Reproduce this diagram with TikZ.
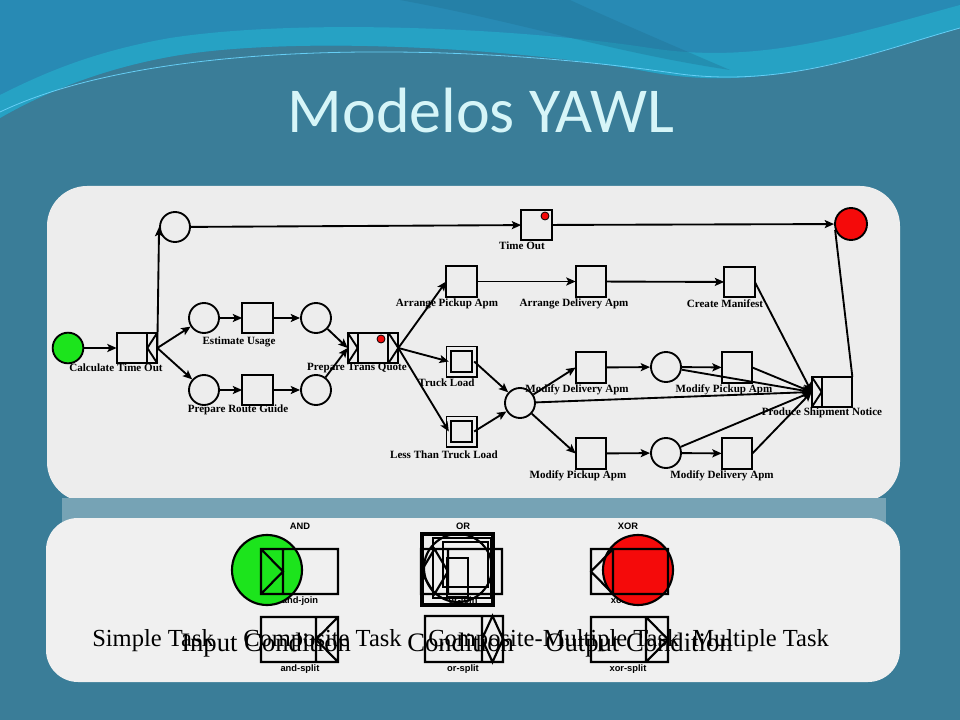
\documentclass[tikz,border=0pt]{standalone}
\usepackage{fontspec}
\setmainfont{Liberation Serif}
\newfontfamily\titlefont{Carlito}
\newfontfamily\tagfont{Liberation Sans}
\usetikzlibrary{positioning, arrows.meta}
\definecolor{slidebg}{RGB}{58,125,152}
\definecolor{waveA}{RGB}{40,138,180}
\definecolor{waveB}{RGB}{38,162,196}
\definecolor{panel}{RGB}{237,237,237}
\definecolor{legpanel}{RGB}{240,240,240}
\definecolor{band}{RGB}{118,163,181}
\definecolor{titlecol}{RGB}{214,245,248}
\definecolor{yawlgreen}{RGB}{28,228,28}
\definecolor{yawlred}{RGB}{245,10,10}

\begin{document}
\begin{tikzpicture}[x=0.75pt, y=-0.75pt,
	task/.style={draw, line width=1.4pt, fill=panel, minimum size=23pt, inner sep=0pt, outer sep=0pt},
	dtask/.style={task, double=panel, double distance=2.2pt, minimum size=19pt},
	deco/.style={draw, line width=1.4pt, fill=panel, minimum width=7.5pt, minimum height=23pt, inner sep=0pt, outer sep=0pt},
	cond/.style={circle, draw, line width=1.4pt, fill=panel, minimum size=22.5pt, inner sep=0pt},
	dot/.style={circle, draw, line width=0.6pt, fill=yawlred, minimum size=6pt, inner sep=0pt},
	flow/.style={-{Stealth[length=7pt, width=6pt, inset=1.5pt]}, line width=1.4pt},
	lbl/.style={font=\bfseries\fontsize{8.3}{8}\selectfont, inner sep=0pt},
	tag/.style={font=\tagfont\bfseries\fontsize{7}{7}\selectfont, inner sep=0pt},
	icon/.style={line width=1.6pt},
	legA/.style={anchor=base west, inner sep=0pt, font=\fontsize{18.4}{18}\selectfont},
	legB/.style={anchor=base west, inner sep=0pt, font=\fontsize{20}{20}\selectfont}]
	\useasboundingbox (0,0) rectangle (960,720);
	\fill[slidebg] (0,0) rectangle (960,720);
	\fill[waveA] (0,0) -- (960,0) -- (960,28) .. controls (850,60) and (760,92) .. (650,72) .. controls (520,48) and (300,36) .. (180,55) .. controls (100,68) and (40,95) .. (0,118) -- cycle;
	\fill[waveB] (0,118) .. controls (40,95) and (100,68) .. (180,55) .. controls (300,36) and (520,48) .. (650,72) .. controls (760,92) and (850,60) .. (960,28) -- (960,5) .. controls (850,35) and (760,65) .. (650,48) .. controls (520,28) and (300,18) .. (170,38) .. controls (90,52) and (40,75) .. (0,95) -- cycle;
	\fill[waveA!80!black, opacity=0.35] (400,0) .. controls (520,22) and (610,52) .. (730,70) .. controls (660,40) and (600,14) .. (570,0) -- cycle;
	\draw[cyan!60, line width=0.6pt] (0,112) .. controls (150,40) and (450,40) .. (680,74) .. controls (790,88) and (880,50) .. (960,28);
	\node[font=\titlefont\fontsize{48}{48}\selectfont, text=titlecol, anchor=base, inner sep=0pt] (title) at (481,133) {Modelos YAWL};

	\fill[panel, rounded corners=30pt] (47,186) rectangle (900,502);
	\fill[band] (62,498) rectangle (886,524);
	\fill[legpanel, rounded corners=24pt] (46,518) rectangle (900,682);

	\node[cond, fill=yawlgreen, minimum size=23pt] (in) at (68,348) {};
	\node[task] (cto) at (132,348) {};
	\node[deco, right=0pt of cto] (ctos) {};
	\draw[line width=1.4pt] (ctos.north east) -- (ctos.west) -- (ctos.south east);
	\node[cond] (p1) at (175,227) {};
	\node[task] (tout) at (536.5,225) {};
	\node[dot] (toutd) at (545,216) {};
	\node[cond, fill=yawlred, minimum size=24pt] (out) at (851,224) {};
	\node[cond] (c1) at (204,318) {};
	\node[task] (eu) at (257.5,318) {};
	\node[cond] (c2) at (316,318) {};
	\node[cond] (c3) at (204,390) {};
	\node[task] (prg) at (257.5,390) {};
	\node[cond] (c4) at (316,390) {};
	\node[task] (ptq) at (373,348) {};
	\node[deco, left=0pt of ptq] (ptqj) {};
	\node[deco, right=0pt of ptq] (ptqs) {};
	\draw[line width=1.4pt] (ptqj.north west) -- (ptqj.east) -- (ptqj.south west);
	\draw[line width=1.4pt] (ptqs.north west) -- (ptqs.east) -- (ptqs.south west);
	\node[dot] (ptqd) at (381,339) {};
	\node[task] (apa) at (461.5,281.5) {};
	\node[task] (ada) at (591,281.5) {};
	\node[task] (cm) at (739.5,282) {};
	\node[dtask] (tl) at (461.5,361.5) {};
	\node[dtask] (ltl) at (461.5,431.5) {};
	\node[cond] (c5) at (520,403) {};
	\node[task] (mda) at (591,367.5) {};
	\node[cond] (c6) at (666,367) {};
	\node[task] (mpa) at (737,367.5) {};
	\node[task] (mpb) at (591,453.5) {};
	\node[cond] (c7) at (666,453) {};
	\node[task] (mdb) at (737,453.5) {};
	\node[task] (psn) at (837,392) {};
	\node[deco, left=0pt of psn] (psnj) {};
	\draw[line width=1.4pt] (psnj.north west) -- (psnj.east) -- (psnj.south west);

	\draw[flow] (in) -- (cto);
	\draw[flow] (ctos.east) -- (p1.west);
	\draw[flow] (ctos.east) -- (c1);
	\draw[flow] (ctos.east) -- (c3);
	\draw[flow] (p1) -- (tout);
	\draw[flow] (tout) -- (out);
	\draw[flow] (c1) -- (eu);
	\draw[flow] (eu) -- (c2);
	\draw[flow] (c3) -- (prg);
	\draw[flow] (prg) -- (c4);
	\draw[flow] (c2) -- (ptqj.west);
	\draw[flow] (c4) -- (ptqj.west);
	\draw[flow] (ptqs.east) -- (apa.west);
	\draw[flow] (ptqs.east) -- (tl.west);
	\draw[flow] (ptqs.east) -- (ltl.west);
	\draw[flow] (apa) -- (ada);
	\draw[flow] (ada) -- (cm);
	\draw[flow] (tl.east) -- (c5);
	\draw[flow] (ltl.east) -- (c5);
	\draw[flow] (c5) -- (mda.west);
	\draw[flow] (c5) -- (mpb.west);
	\draw[flow] (c5) -- (psnj.west);
	\draw[flow] (mda) -- (c6);
	\draw[flow] (c6) -- (mpa);
	\draw[flow] (mpb) -- (c7);
	\draw[flow] (c7) -- (mdb);
	\draw[flow] (cm.east) -- (psnj.west);
	\draw[flow] (c6) -- (psnj.west);
	\draw[flow] (mpa.east) -- (psnj.west);
	\draw[flow] (c7) -- (psnj.west);
	\draw[flow] (mdb.east) -- (psnj.west);
	\draw[line width=1.4pt] (psn.north east) -- (out.200);

	\node[lbl] (ctol) at (116,368) {Calculate Time Out};
	\node[lbl] (eul) at (239,342) {Estimate Usage};
	\node[lbl] (prgl) at (238,410) {Prepare Route Guide};
	\node[lbl] (ptql) at (357,368) {Prepare Trans Quote};
	\node[lbl] (toutl) at (522,246) {Time Out};
	\node[lbl] (apal) at (447,304) {Arrange Pickup Apm};
	\node[lbl] (adal) at (574,304) {Arrange Delivery Apm};
	\node[lbl] (cml) at (725,304) {Create Manifest};
	\node[lbl] (tll) at (446.5,383) {Truck Load};
	\node[lbl] (ltll) at (444,455) {Less Than Truck Load};
	\node[lbl] (mdal) at (577,390) {Modify Delivery Apm};
	\node[lbl] (mpal) at (724,390) {Modify Pickup Apm};
	\node[lbl] (mpbl) at (578,476) {Modify Pickup Apm};
	\node[lbl] (mdbl) at (722,476) {Modify Delivery Apm};
	\node[lbl] (psnl) at (822,413) {Produce Shipment Notice};

	\node[tag] (andt) at (300,526) {AND};
	\node[tag] (ajl) at (300,601.5) {and-join};
	\node[circle, draw, icon, fill=yawlgreen, minimum size=52.5pt] (ing) at (267,570) {};
	\draw[icon] (261,549) rectangle (338,594) (283,549) -- (283,594) (261,549) -- (283,571.5) -- (261,594);
	\node[tag] (asl) at (300,669) {and-split};
	\draw[icon] (261,617) rectangle (338,662) (316,617) -- (316,662) (338,617) -- (316,639.5) -- (338,662);

	\node[tag] (ort) at (463,526) {OR};
	\node[tag] (ojl) at (463,601.5) {or-join};
	\draw[line width=2.4pt] (422,534) rectangle (493,605);
	\draw[icon] (433,538) rectangle (491,598);
	\draw[icon] (443,542) rectangle (488,587);
	\draw[icon] (458,568) circle[radius=34];
	\draw[icon] (421,549) rectangle (502,594) (448,549) -- (448,594) (434.5,549) -- (421,571.5) -- (434.5,594) -- (448,571.5) -- cycle;
	\draw[icon] (447,558) rectangle (468,597);
	\node[tag] (osl) at (463,669) {or-split};
	\draw[icon] (425,616) rectangle (503,662) (482,616) -- (482,662) (492.5,616) -- (482,639) -- (492.5,662) -- (503,639) -- cycle;

	\node[tag] (xort) at (628,526) {XOR};
	\node[tag] (xjl) at (628,601.5) {xor-join};
	\node[circle, draw, icon, fill=yawlred, minimum size=52.5pt] (outr) at (638,570) {};
	\draw[icon] (591,549) rectangle (668,594) (613,549) -- (613,594) (613,549) -- (591,571.5) -- (613,594);
	\node[tag] (xsl) at (628,669) {xor-split};
	\draw[icon] (591,617) rectangle (668,662) (646,617) -- (646,662) (646,617) -- (668,639.5) -- (646,662);

	\node[legA] (simple) at (92,646) {Simple Task};
	\node[legA] (comp) at (243,646) {Composite Task};
	\node[legA] (compm) at (428,646) {Composite-Multiple Task};
	\node[legA] (multi) at (692,646) {Multiple Task};
	\node[legB] (incond) at (181,651) {Input Condition};
	\node[legB] (cond) at (407,651) {Condition};
	\node[legB] (outcond) at (545,651) {Output Condition};
\end{tikzpicture}
\end{document}
